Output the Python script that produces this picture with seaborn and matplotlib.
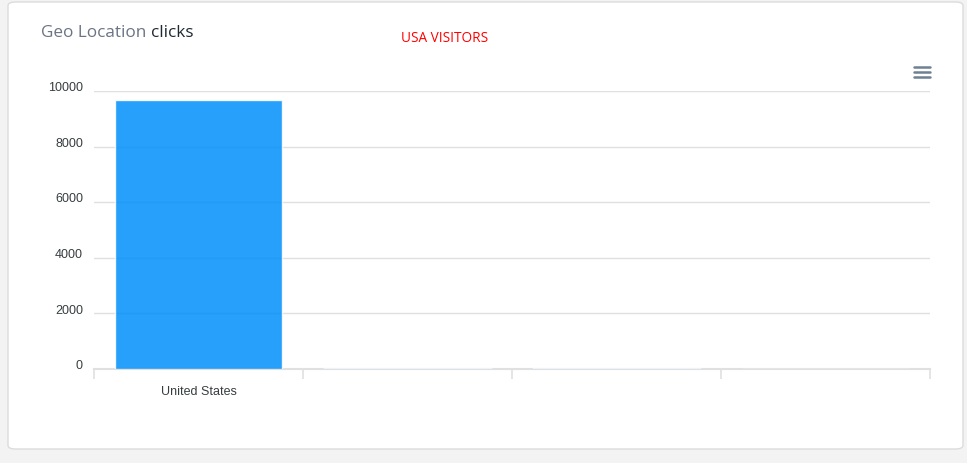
import matplotlib
matplotlib.use("Agg")
import matplotlib.pyplot as plt
import matplotlib.transforms as mtransforms
from matplotlib.patches import FancyBboxPatch
from matplotlib.lines import Line2D
import seaborn as sns
import pandas as pd
import numpy as np

# chart data (only the first category is legible in the reference)
countries = ["United States", "c2", "c3", "c4"]
tick_labels = ["United States", "", "", ""]
clicks = [9680, 40, 25, 15]
y_ticks = [0, 2000, 4000, 6000, 8000, 10000]

W, H = 967, 463


def fx(px):
    return px / W


def fy(py):
    return 1 - py / H


def main():
    sns.set_theme(style="white")
    plt.rcParams["font.family"] = ["Liberation Sans", "DejaVu Sans"]

    fig = plt.figure(figsize=(W / 100, H / 100), dpi=100)
    fig.patch.set_facecolor("#f3f3f3")

    # white card
    card = FancyBboxPatch((fx(8), fy(449)), fx(955), 447 / H,
                          boxstyle="round,pad=0,rounding_size=0.008",
                          transform=fig.transFigure, facecolor="white",
                          edgecolor="#dcdcdc", linewidth=1.0, zorder=-5)
    fig.patches.append(card)

    ax = fig.add_axes([fx(94), fy(369), fx(930) - fx(94), 278 / H])
    ax.set_zorder(2)
    ax.set_facecolor("none")

    df = pd.DataFrame({"country": countries, "clicks": clicks})
    sns.barplot(data=df, x="country", y="clicks", order=countries,
                color="#008FFB", alpha=0.85, width=0.8, saturation=1,
                ax=ax, zorder=3)

    ax.set_xlim(-0.5, len(countries) - 0.5)
    ax.set_ylim(0, 10000)
    ax.set_yticks(y_ticks)
    ax.set_yticklabels([str(v) for v in y_ticks], fontsize=9, color="#373d3f")
    ax.yaxis.grid(True, color="#e0e0e0", linewidth=1, zorder=0)
    ax.set_axisbelow(True)

    ax.set_xticks(range(len(countries)))
    ax.set_xticklabels(tick_labels, fontsize=9, color="#373d3f")
    ax.set_xticks(np.arange(-0.5, len(countries)), minor=True)
    ax.tick_params(axis="x", which="major", length=0, pad=12)
    ax.tick_params(axis="x", which="minor", length=7, color="#e0e0e0", width=1.2,
                   bottom=True)
    ax.tick_params(axis="y", length=0, pad=8)
    shift = mtransforms.ScaledTranslation(0, 2 / 72, fig.dpi_scale_trans)
    for lab in ax.get_yticklabels():
        lab.set_verticalalignment("center")
        lab.set_transform(lab.get_transform() + shift)

    for s in ["top", "right", "left"]:
        ax.spines[s].set_visible(False)
    ax.spines["bottom"].set_color("#e0e0e0")
    ax.spines["bottom"].set_linewidth(1.5)
    ax.set_xlabel("")
    ax.set_ylabel("")

    # titles
    t = fig.text(fx(41), fy(33), "Geo Location ", fontsize=12.3,
                 color="#6b7385", va="center", family=["Open Sans", "DejaVu Sans"])
    fig.canvas.draw()
    bb = t.get_window_extent()
    fig.text(bb.x1 / W, fy(33), "clicks", fontsize=12.3, color="#1f2933",
             va="center", family=["Open Sans", "DejaVu Sans"])
    fig.text(fx(401), fy(39), "USA VISITORS", fontsize=9.8, color="#ff0000",
             va="center", family=["Open Sans", "DejaVu Sans"])

    # menu icon
    for py in [67, 72, 77]:
        fig.lines.append(Line2D([fx(914), fx(930)], [fy(py), fy(py)],
                                transform=fig.transFigure, color="#6e8192",
                                linewidth=1.8))

    plt.savefig("out.png", dpi=100, facecolor=fig.get_facecolor())


if __name__ == '__main__':
    main()
